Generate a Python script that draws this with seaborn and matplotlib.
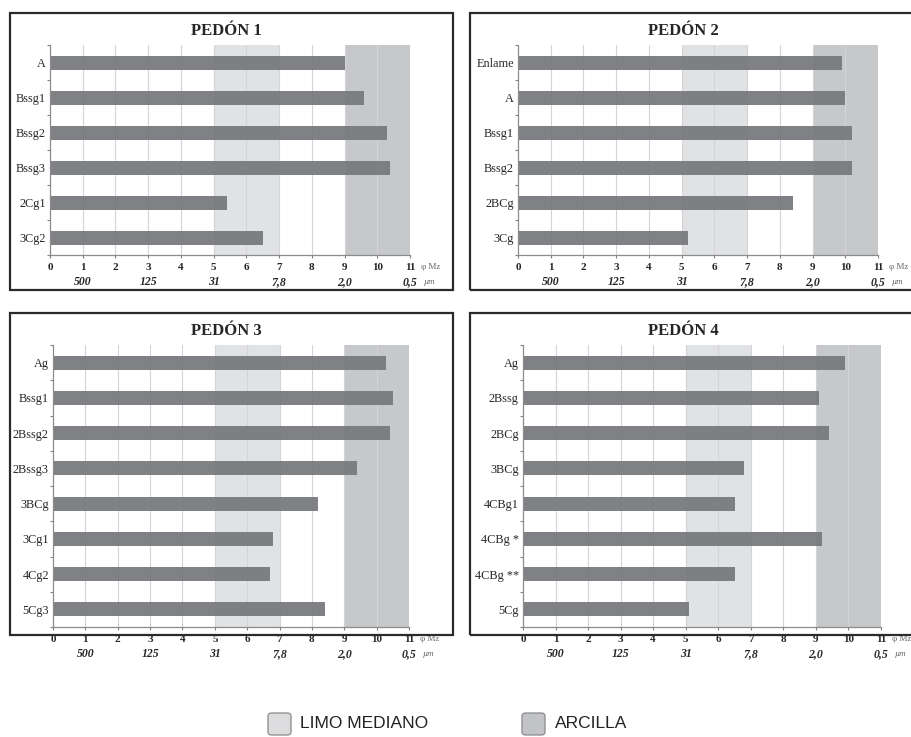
import matplotlib
matplotlib.use("Agg")
import matplotlib.pyplot as plt
from matplotlib.patches import Rectangle, FancyBboxPatch
import seaborn as sns
import pandas as pd

# Mean grain size (phi Mz) per horizon, four pedons
pedon1_horizons = ["A", "Bssg1", "Bssg2", "Bssg3", "2Cg1", "3Cg2"]
pedon1_mz = [9.0, 9.6, 10.3, 10.4, 5.4, 6.5]

pedon2_horizons = ["Enlame", "A", "Bssg1", "Bssg2", "2BCg", "3Cg"]
pedon2_mz = [9.9, 10.0, 10.2, 10.2, 8.4, 5.2]

pedon3_horizons = ["Ag", "Bssg1", "2Bssg2", "2Bssg3", "3BCg", "3Cg1", "4Cg2", "5Cg3"]
pedon3_mz = [10.3, 10.5, 10.4, 9.4, 8.2, 6.8, 6.7, 8.4]

pedon4_horizons = ["Ag", "2Bssg", "2BCg", "3BCg", "4CBg1", "4CBg *", "4CBg **", "5Cg"]
pedon4_mz = [9.9, 9.1, 9.4, 6.8, 6.5, 9.2, 6.5, 5.1]

titles = ["PEDÓN 1", "PEDÓN 2", "PEDÓN 3", "PEDÓN 4"]
phi_ticks = list(range(0, 12))
um_positions = [1, 3, 5, 7, 9, 11]
um_labels = ["500", "125", "31", "7,8", "2,0", "0,5"]
legend_labels = ["LIMO MEDIANO", "ARCILLA"]

BAR = "#797a7d"
SILT = "#e0e1e3"
CLAY = "#c4c5c8"
GRID = "#d4d4d6"
SERIF = ["Liberation Serif", "DejaVu Serif"]

sns.set_theme(style="white")
plt.rcParams["font.family"] = SERIF

W, H = 912, 737
fig = plt.figure(figsize=(W / 100, H / 100), dpi=100)
fig.patch.set_facecolor("white")


def fx(px):
    return px / W


def fy(py):
    return 1 - py / H


# (axes left, right, top, bottom) and (frame left, top, right, bottom) in pixels
panels = [
    ((pedon1_horizons, pedon1_mz), (50, 410, 45, 255), (10, 13, 453, 290)),
    ((pedon2_horizons, pedon2_mz), (518, 878, 45, 255), (470, 13, 916, 290)),
    ((pedon3_horizons, pedon3_mz), (53, 409, 345, 627), (10, 313, 453, 635)),
    ((pedon4_horizons, pedon4_mz), (523, 881, 345, 627), (470, 313, 916, 635)),
]

for i, ((horizons, mz), (l, r, t, b), (bl, bt, br, bb)) in enumerate(panels):
    # outer frame of the panel
    fig.patches.append(Rectangle((fx(bl), fy(bb)), fx(br - bl), (bb - bt) / H,
                                 transform=fig.transFigure, fill=False,
                                 edgecolor="#2a2a2a", linewidth=1.6, zorder=0))
    fig.text(fx((bl + min(br, 906)) / 2 - 5), fy(bt + 18), titles[i],
             ha="center", va="center", fontsize=12, fontweight="bold",
             family=SERIF)

    ax = fig.add_axes([fx(l), fy(b), fx(r - l), (b - t) / H])
    ax.set_facecolor("white")

    # grain-size bands: medium silt (5-7 phi) and clay (9-11 phi)
    ax.axvspan(5, 7, color=SILT, zorder=0, linewidth=0)
    ax.axvspan(9, 11, facecolor=CLAY, edgecolor="#9a9a9c", linewidth=0.8, zorder=0)
    for xv in phi_ticks[1:]:
        ax.axvline(xv, color=GRID, linewidth=0.8, zorder=0.5)

    df = pd.DataFrame({"horizonte": horizons, "mz": mz})
    sns.barplot(data=df, x="mz", y="horizonte", orient="h", color=BAR,
                width=0.4, saturation=1, ax=ax, zorder=2)
    for p in ax.patches:
        p.set_alpha(0.95)
        p.set_linewidth(0)

    n = len(horizons)
    ax.set_xlim(0, 11)
    ax.set_ylim(n - 0.5, -0.5)
    ax.set_xlabel("")
    ax.set_ylabel("")

    ax.set_xticks(phi_ticks)
    ax.set_xticklabels([str(v) for v in phi_ticks], fontsize=8,
                       fontweight="bold", family=SERIF)
    ax.tick_params(axis="x", length=2.5, width=0.8, color="#808080", pad=3,
                   bottom=True)
    ax.set_yticks(range(n))
    ax.set_yticklabels(horizons, fontsize=8.8, family=SERIF)
    ax.tick_params(axis="y", length=0, pad=3)
    ax.set_yticks([k + 0.5 for k in range(-1, n)], minor=True)
    ax.tick_params(axis="y", which="minor", length=2.5, width=0.8,
                   color="#808080", left=True)

    for side in ["top", "right"]:
        ax.spines[side].set_visible(False)
    for side in ["left", "bottom"]:
        ax.spines[side].set_color("#8c8c8c")
        ax.spines[side].set_linewidth(0.9)

    # micrometre equivalents under the phi scale
    for pos, lab in zip(um_positions, um_labels):
        ax.annotate(lab, xy=(pos, 0), xycoords=("data", "axes fraction"),
                    xytext=(0, -19.5), textcoords="offset points",
                    ha="center", va="center", fontsize=8.5, fontweight="bold",
                    fontstyle="italic", family=SERIF, annotation_clip=False)
    ax.annotate("φ Mz", xy=(11, 0), xycoords=("data", "axes fraction"),
                xytext=(8, -8.8), textcoords="offset points", ha="left",
                va="center", fontsize=6.5, color="#666666", family=SERIF,
                annotation_clip=False)
    ax.annotate("µm", xy=(11, 0), xycoords=("data", "axes fraction"),
                xytext=(10, -19.5), textcoords="offset points", ha="left",
                va="center", fontsize=6.5, fontstyle="italic", color="#666666",
                family=SERIF, annotation_clip=False)

# legend for the shaded bands
for (px, tx), lab, col in zip([(268, 300), (522, 555)], legend_labels,
                              ["#dcdcde", "#c2c3c6"]):
    fig.patches.append(FancyBboxPatch((fx(px), fy(735)), fx(23), 22 / H,
                                      boxstyle="round,pad=0,rounding_size=0.004",
                                      transform=fig.transFigure,
                                      facecolor=col, edgecolor="#8a8a8a",
                                      linewidth=0.9))
    fig.text(fx(tx), fy(724), lab, ha="left", va="center", fontsize=12.5,
             family=["Liberation Sans", "DejaVu Sans"], color="#222222")

fig.savefig("out.png", dpi=100, facecolor="white")
